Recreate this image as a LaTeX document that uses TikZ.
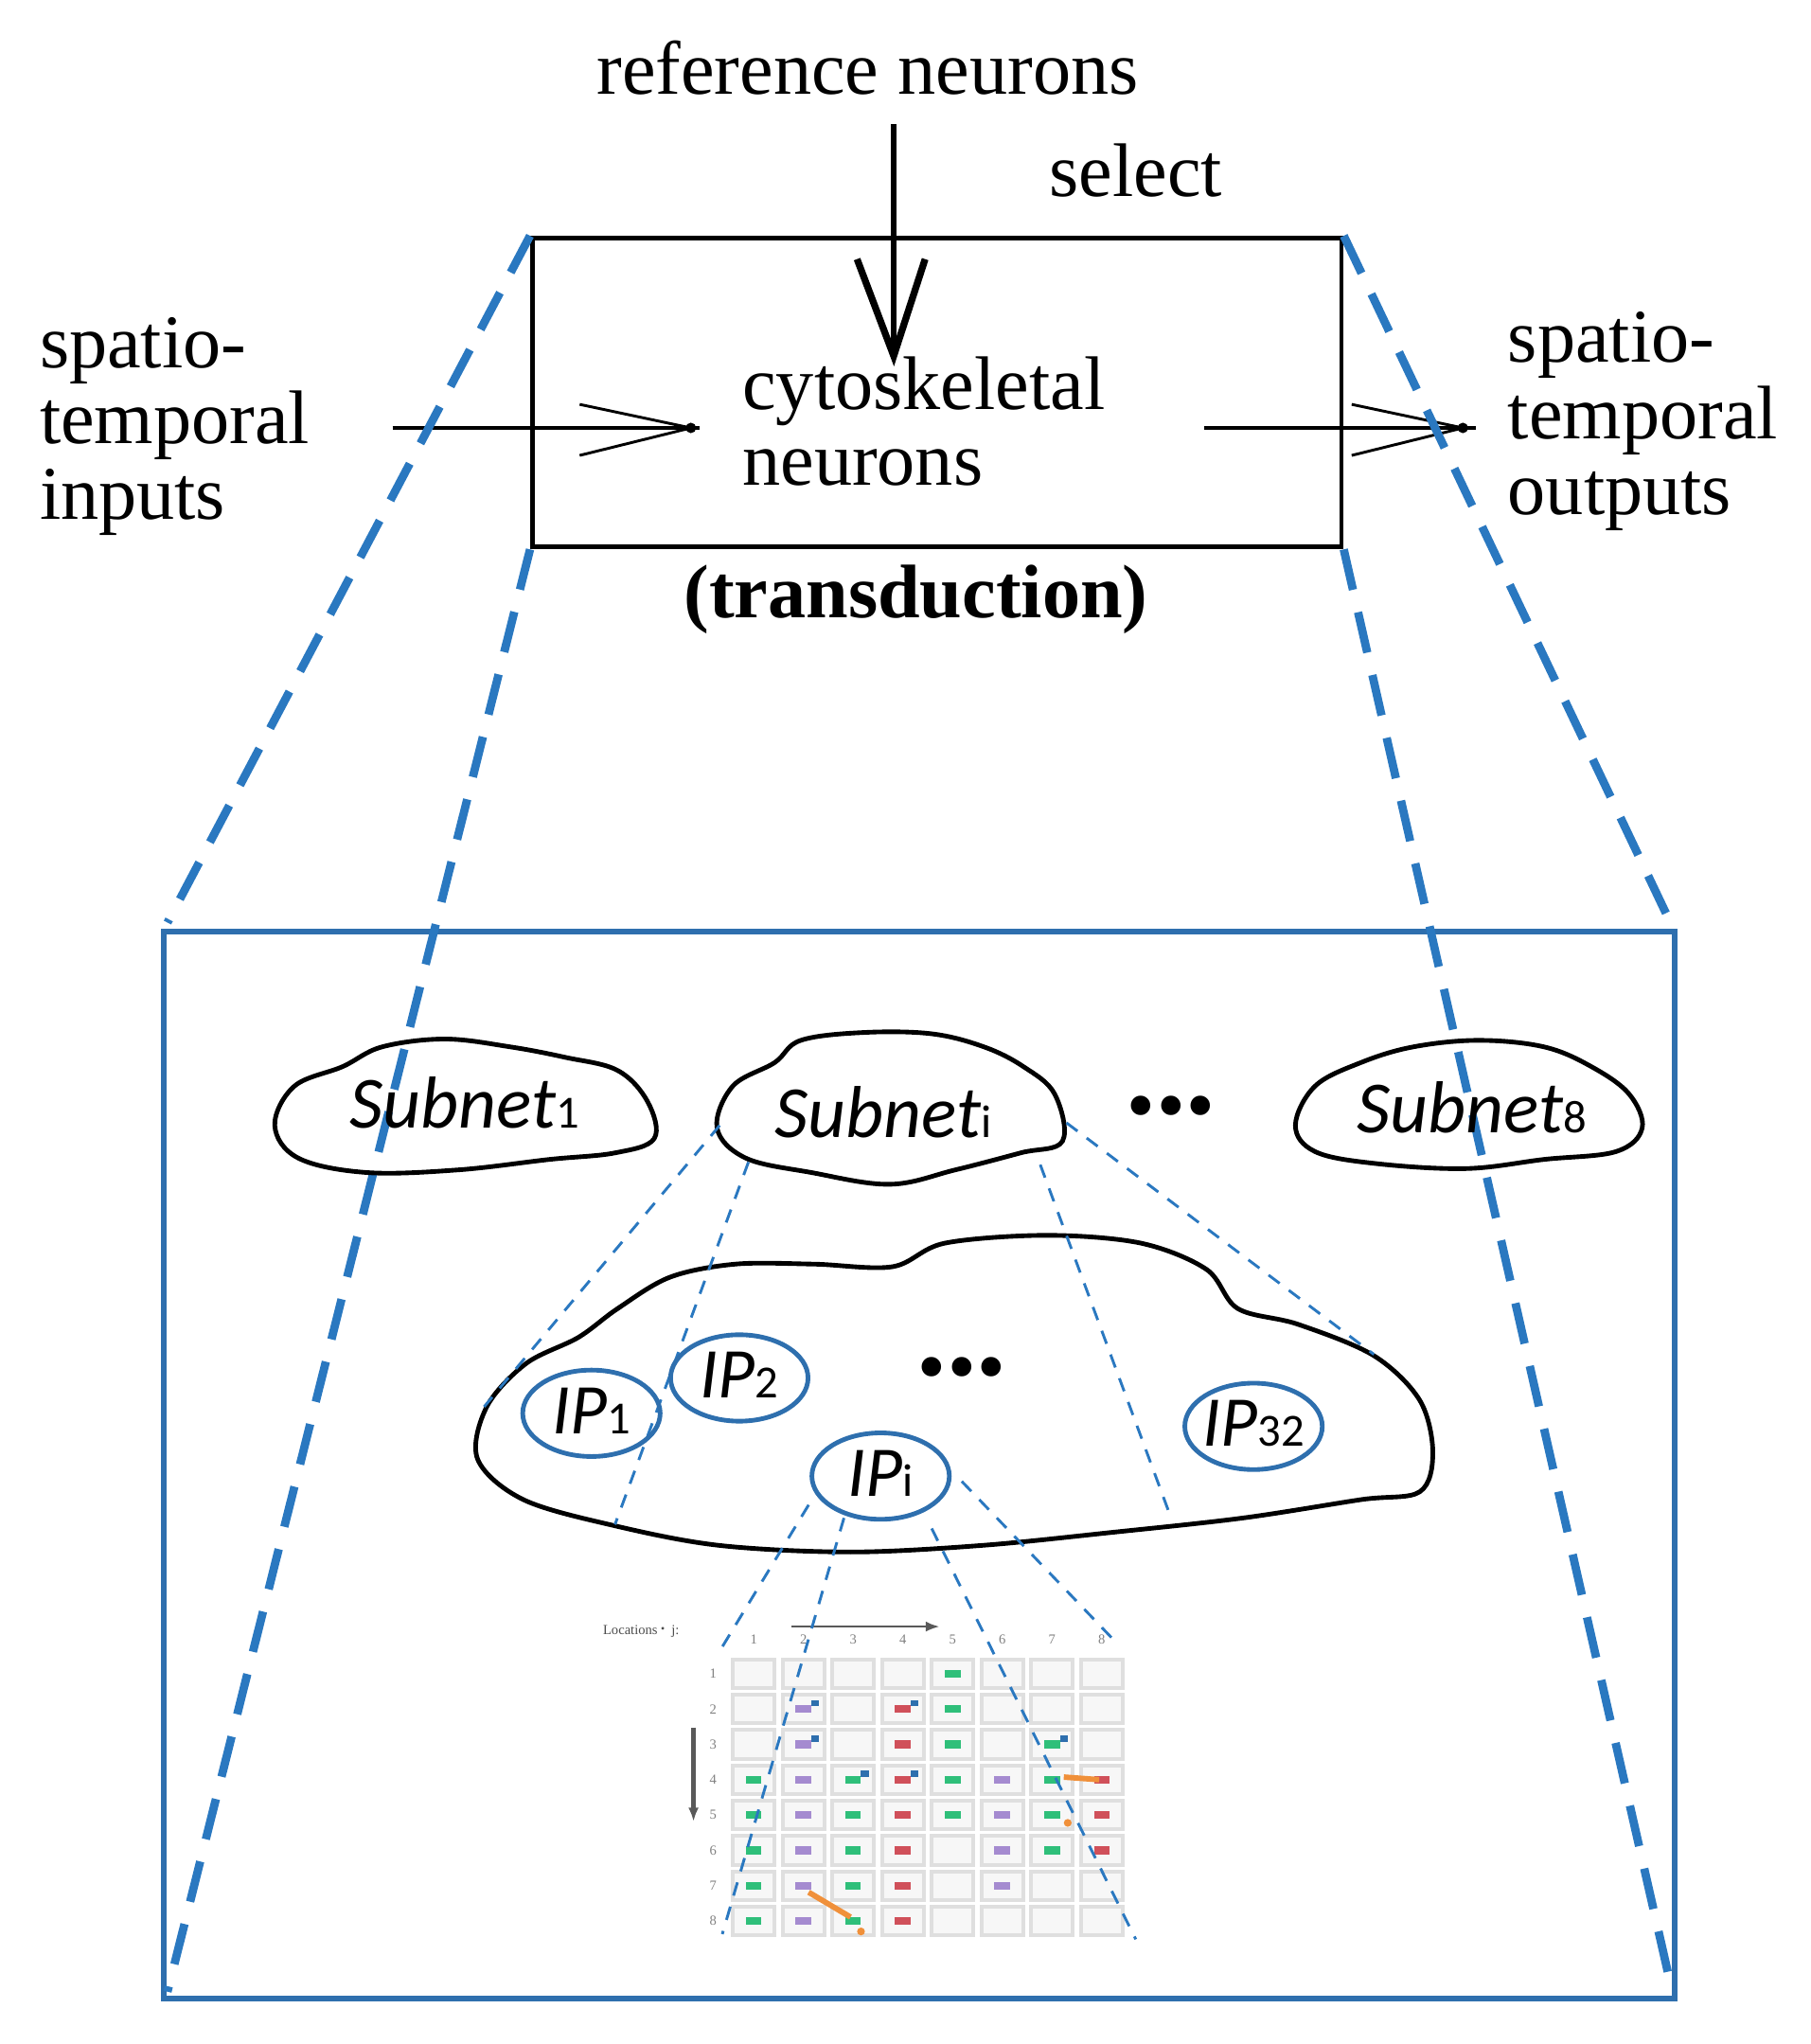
\documentclass[tikz,border=0pt]{standalone}
\usepackage{fontspec}
\setmainfont{Liberation Serif}
\newfontfamily\calib{Carlito}
\usetikzlibrary{arrows.meta,shapes.geometric}
\definecolor{dblue}{HTML}{2A78C0}
\definecolor{fblue}{HTML}{2E6FAE}
\definecolor{mgreen}{HTML}{2FBF7A}
\definecolor{mpurp}{HTML}{A58BD0}
\definecolor{mred}{HTML}{D0505A}
\definecolor{morng}{HTML}{F0903A}
\begin{document}
\begin{tikzpicture}[x=0.01cm,y=-0.01cm,
  big/.style={font=\fontsize{16.5}{16.5}\selectfont},
  sub/.style={font=\calib\itshape\fontsize{16}{18}\selectfont},
  ipf/.style={font=\calib\itshape\fontsize{15.5}{18}\selectfont},
  zoomline/.style={dblue,line width=1.8pt,dash pattern=on 9pt off 5pt},
  thindash/.style={dblue,line width=0.6pt,dash pattern=on 3pt off 2.5pt},
  blob/.style={black,line width=1pt},
  ip/.style={draw=fblue,line width=1pt,ellipse,minimum width=1.05cm,minimum height=0.66cm,inner sep=0pt},
  ahead/.style={line width=0.6pt}]
\useasboundingbox (0,0) rectangle (1384,1562);
% top part
\node[big] (ref) at (663,52) {reference neurons};
\node[big] (sel) at (868,130) {select};
\node[draw,line width=1pt,minimum width=6.18cm,minimum height=2.36cm,inner sep=0pt] (box) at (716,300) {};
\coordinate (rtop) at (683,95);
\coordinate (rtip) at (683,272);
\draw[line width=1.2pt] (rtop) -- (rtip);
\draw[line width=1.5pt] (655,198) -- (rtip) -- (707,198);
\node[big,align=left,anchor=west] (cyto) at (555,322) {cytoskeletal\\neurons};
\node[big,align=left,anchor=west] (inp) at (18,326) {spatio-\\temporal\\inputs};
\node[big,align=left,anchor=west] (outp) at (1140,322) {spatio-\\temporal\\outputs};
\coordinate (ia) at (300,327); \coordinate (ib) at (535,327);
\draw[line width=0.8pt] (ia) -- (ib);
\draw[ahead] (443,309) -- (528,327) -- (443,348);
\fill (528,327) circle (4);
\coordinate (oa) at (920,327); \coordinate (ob) at (1128,327);
\draw[line width=0.8pt] (oa) -- (ob);
\draw[ahead] (1033,309) -- (1118,327) -- (1033,348);
\fill (1118,327) circle (4);
\node[big,font=\bfseries\fontsize{16.5}{18}\selectfont] (trans) at (700,458) {(transduction)};
% frame
\draw[fblue,line width=1.2pt] (125,712) rectangle (1280,1527);
% zoom lines
\coordinate (z1) at (128,705); \coordinate (z2) at (128,1522);
\coordinate (z3) at (1278,708); \coordinate (z4) at (1278,1522);
\draw[zoomline] (box.north west) -- (z1);
\draw[zoomline] (box.south west) -- (z2);
\draw[zoomline] (box.north east) -- (z3);
\draw[zoomline] (box.south east) -- (z4);
% subnet clouds
\draw[blob] plot[smooth cycle,tension=0.6] coordinates {(210,860)(225,830)(262,815)(292,800)(340,794)(390,800)(432,808)(472,818)(495,842)(500,870)(470,881)(420,886)(350,894)(280,896)(228,885)};
\draw[blob] plot[smooth cycle,tension=0.6] coordinates {(548,862)(560,830)(592,812)(612,795)(660,789)(712,790)(752,800)(782,815)(806,836)(812,872)(780,881)(730,894)(680,905)(620,896)(570,885)};
\draw[blob] plot[smooth cycle,tension=0.6] coordinates {(990,860)(1005,830)(1040,812)(1080,800)(1130,795)(1180,800)(1216,815)(1245,836)(1255,862)(1235,880)(1180,886)(1120,893)(1050,889)(1005,880)};
\node[sub] (s1) at (355,843) {Subnet{\upshape\fontsize{10}{10}\selectfont 1}};
\node[sub] (si) at (675,850) {Subnet{\upshape\fontsize{10}{10}\selectfont i}};
\node[sub] (s8) at (1125,846) {Subnet{\upshape\fontsize{10}{10}\selectfont 8}};
\node[font=\bfseries\fontsize{26}{26}\selectfont] (dots1) at (895,845) {...};
% big cloud
\draw[blob] plot[smooth cycle,tension=0.55] coordinates {(365,1115)(372,1075)(402,1042)(442,1022)(472,1000)(512,976)(562,966)(622,966)(682,968)(722,950)(800,944)(872,950)(922,970)(946,1000)(992,1012)(1050,1036)(1085,1070)(1095,1110)(1085,1140)(1040,1146)(950,1160)(850,1171)(750,1181)(650,1186)(550,1181)(470,1166)(400,1146)};
% dashed from subnet_i
\coordinate (b1) at (370,1075); \coordinate (b2) at (470,1165);
\coordinate (b3) at (895,1160); \coordinate (b4) at (1050,1035);
\draw[thindash] (550,860) -- (b1);
\draw[thindash] (572,888) -- (b2);
\draw[thindash] (795,890) -- (b3);
\draw[thindash] (815,858) -- (b4);
% IPs
\node[ip] (ip1) at (452,1080) {}; \node[ipf] at (452,1078) {IP{\upshape\fontsize{10}{10}\selectfont 1}};
\node[ip] (ip2) at (565,1053) {}; \node[ipf] at (565,1051) {IP{\upshape\fontsize{10}{10}\selectfont 2}};
\node[ip] (ipi) at (673,1128) {}; \node[ipf] at (673,1126) {IP{\upshape\fontsize{10}{10}\selectfont i}};
\node[ip] (ip32) at (958,1090) {}; \node[ipf] at (958,1088) {IP{\upshape\fontsize{10}{10}\selectfont 32}};
\node[font=\bfseries\fontsize{26}{26}\selectfont] (dots2) at (735,1045) {...};
% grid
\begin{scope}
\foreach \i in {0,...,7}{
  \foreach \j in {0,...,7}{
    \draw[gray!25,fill=gray!6,line width=0.8pt] ({560+\i*38},{1268+\j*27}) rectangle +(32,22);
  }
  \node[font=\fontsize{3}{3}\selectfont,gray] at ({576+\i*38},1253) {\the\numexpr\i+1\relax};
  \node[font=\fontsize{3}{3}\selectfont,gray] at (545,{1279+\i*27}) {\the\numexpr\i+1\relax};
}
\node[font=\fontsize{3}{3}\selectfont,gray!60!black] at (490,1246) {Locations$\cdot$ j:};
\draw[gray!70!black,line width=0.5pt,-{Latex[length=3pt]}] (605,1243) -- (718,1243);
\draw[gray!70!black,line width=1pt,-{Latex[length=3pt]}] (530,1320) -- (530,1392);
\foreach \x/\y/\c in {5/1/mgreen,5/2/mgreen,5/3/mgreen,5/4/mgreen,5/5/mgreen,
  2/2/mpurp,2/3/mpurp,2/4/mpurp,2/5/mpurp,2/6/mpurp,2/7/mpurp,2/8/mpurp,
  4/2/mred,4/3/mred,4/4/mred,4/5/mred,4/6/mred,4/7/mred,4/8/mred,
  1/4/mgreen,1/5/mgreen,1/6/mgreen,1/7/mgreen,1/8/mgreen,
  3/4/mgreen,3/5/mgreen,3/6/mgreen,3/7/mgreen,3/8/mgreen,
  6/4/mpurp,6/5/mpurp,6/6/mpurp,6/7/mpurp,7/3/mgreen,7/4/mgreen,7/5/mgreen,7/6/mgreen,
  8/4/mred,8/5/mred,8/6/mred}{
  \fill[\c] ({560+(\x-1)*38+10},{1268+(\y-1)*27+8}) rectangle +(12,6);
}
\foreach \x/\y in {2/2,2/3,3/4,4/4,4/2,7/3}{
  \fill[fblue] ({560+(\x-1)*38+22},{1268+(\y-1)*27+4}) rectangle +(6,5);
}
\draw[morng,line width=1.2pt] (618,1446) -- (650,1465);
\fill[morng] (658,1476) circle (3);
\draw[morng,line width=1.2pt] (813,1358) -- (840,1360);
\fill[morng] (816,1393) circle (3);
\end{scope}
% dashed from IP_i
\coordinate (g1) at (548,1265); \coordinate (g2) at (552,1478);
\coordinate (g3) at (868,1482); \coordinate (g4) at (850,1252);
\draw[thindash] (618,1150) -- (g1);
\draw[thindash] (645,1160) -- (g2);
\draw[thindash] (712,1168) -- (g3);
\draw[thindash] (735,1132) -- (g4);
\end{tikzpicture}
\end{document}
